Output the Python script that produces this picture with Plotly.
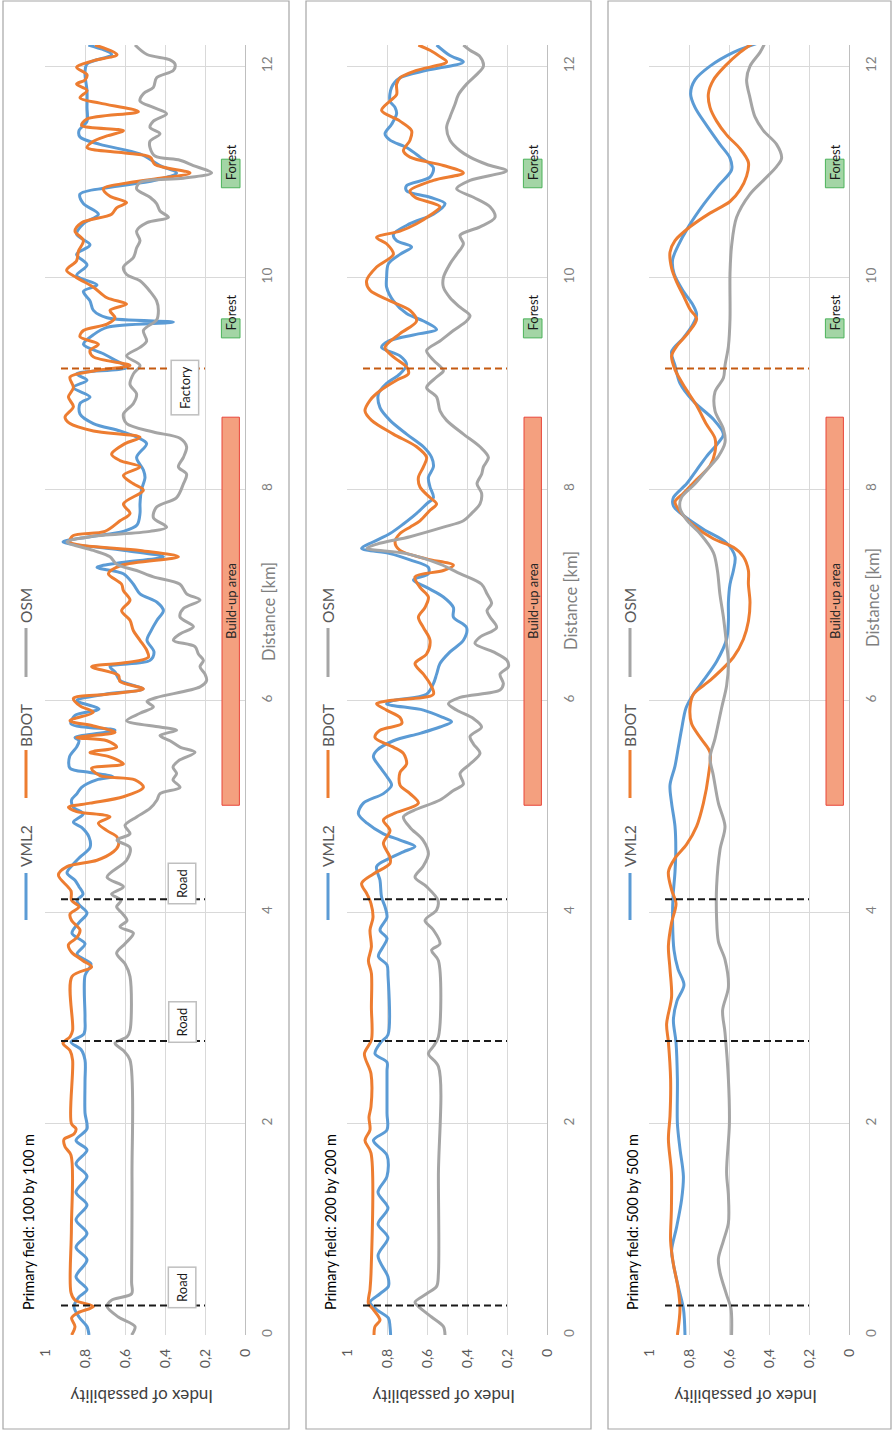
import plotly.graph_objects as go

W, H = 892, 1432
FONT = "Lato"

# ---------------- data: index of passability along the route ----------------
# Primary field 100 x 100 m
km_vml2_100 = [0, 0.08, 0.17, 0.27, 0.36, 0.43, 0.55, 0.71, 0.83, 0.96, 1.09, 1.23, 1.35, 1.5, 1.62, 1.75, 1.84, 1.95,
               2.1, 2.4, 2.6, 2.7, 2.77, 2.85, 3.0, 3.4, 3.51, 3.6, 3.7, 3.8, 3.9, 3.99, 4.07, 4.11, 4.17, 4.24, 4.3,
               4.37, 4.45, 4.52, 4.61, 4.71, 4.8, 4.85, 4.93, 4.99, 5.06, 5.12, 5.18, 5.25, 5.28, 5.32, 5.36, 5.47,
               5.56, 5.62, 5.65, 5.72, 5.78, 5.86, 5.92, 6.0, 6.06, 6.11, 6.19, 6.27, 6.32, 6.38, 6.46, 6.57, 6.66,
               6.76, 6.85, 6.93, 7.01, 7.1, 7.2, 7.26, 7.3, 7.36, 7.42, 7.5, 7.55, 7.6, 7.66, 7.77, 7.86, 7.99, 8.11,
               8.18, 8.3, 8.43, 8.49, 8.55, 8.62, 8.71, 8.81, 8.87, 8.96, 9.03, 9.09, 9.15, 9.22, 9.28, 9.37, 9.46,
               9.53, 9.58, 9.62, 9.69, 9.78, 9.87, 9.93, 10.02, 10.12, 10.22, 10.31, 10.41, 10.51, 10.6, 10.7, 10.79,
               10.85, 10.92, 10.99, 11.06, 11.17, 11.26, 11.33, 11.39, 11.48, 11.61, 11.77, 11.93, 12.02, 12.11, 12.2]
idx_vml2_100 = [0.78, 0.79, 0.83, 0.855, 0.83, 0.79, 0.845, 0.79, 0.845, 0.79, 0.845, 0.79, 0.845, 0.79, 0.845, 0.79,
                0.845, 0.79, 0.8, 0.8, 0.8, 0.82, 0.87, 0.805, 0.8, 0.8, 0.77, 0.84, 0.8, 0.865, 0.83, 0.79, 0.83,
                0.84, 0.81, 0.83, 0.85, 0.89, 0.86, 0.825, 0.775, 0.78, 0.817, 0.858, 0.808, 0.858, 0.867, 0.84,
                0.817, 0.742, 0.66, 0.775, 0.875, 0.877, 0.842, 0.83, 0.85, 0.65, 0.87, 0.85, 0.73, 0.842, 0.7, 0.51,
                0.625, 0.65, 0.675, 0.475, 0.455, 0.49, 0.47, 0.44, 0.408, 0.44, 0.525, 0.558, 0.608, 0.74, 0.64,
                0.408, 0.6, 0.91, 0.775, 0.608, 0.54, 0.525, 0.525, 0.518, 0.5, 0.508, 0.542, 0.492, 0.54, 0.625,
                0.758, 0.825, 0.825, 0.775, 0.858, 0.79, 0.842, 0.59, 0.65, 0.708, 0.808, 0.758, 0.69, 0.358, 0.69,
                0.758, 0.775, 0.808, 0.74, 0.842, 0.79, 0.842, 0.775, 0.842, 0.808, 0.733, 0.808, 0.825, 0.69, 0.45,
                0.342, 0.425, 0.525, 0.725, 0.825, 0.83, 0.79, 0.79, 0.79, 0.8, 0.79, 0.667, 0.783]

km_bdot_100 = [0, 0.08, 0.16, 0.21, 0.27, 0.33, 0.4, 1.0, 1.7, 1.78, 1.85, 1.9, 1.95, 2.0, 2.6, 2.69, 2.76, 2.82, 2.88,
               3.39, 3.48, 3.54, 3.62, 3.69, 3.76, 3.83, 3.92, 3.98, 4.05, 4.11, 4.2, 4.35, 4.43, 4.49, 4.57, 4.63,
               4.71, 4.77, 4.84, 4.9, 4.95, 4.99, 5.03, 5.09, 5.18, 5.25, 5.29, 5.36, 5.4, 5.47, 5.51, 5.56, 5.62,
               5.65, 5.7, 5.76, 5.81, 5.89, 5.95, 6.02, 6.06, 6.11, 6.18, 6.24, 6.32, 6.36, 6.41, 6.47, 6.57, 6.66,
               6.76, 6.85, 6.95, 7.04, 7.1, 7.2, 7.28, 7.36, 7.42, 7.5, 7.56, 7.6, 7.7, 7.77, 7.86, 7.99, 8.05, 8.13,
               8.21, 8.27, 8.33, 8.43, 8.49, 8.55, 8.62, 8.68, 8.78, 8.87, 8.96, 9.06, 9.12, 9.17, 9.25, 9.31, 9.37,
               9.44, 9.5, 9.56, 9.62, 9.69, 9.75, 9.81, 9.91, 10.0, 10.07, 10.16, 10.25, 10.35, 10.44, 10.52, 10.6,
               10.66, 10.71, 10.77, 10.84, 10.9, 10.94, 10.99, 11.07, 11.14, 11.18, 11.23, 11.29, 11.34, 11.39,
               11.44, 11.5, 11.57, 11.65, 11.7, 11.77, 11.83, 11.87, 11.92, 11.99, 12.05, 12.11, 12.2]
idx_bdot_100 = [0.867, 0.85, 0.867, 0.835, 0.758, 0.85, 0.87, 0.868, 0.87, 0.9, 0.905, 0.855, 0.845, 0.868, 0.862,
                0.875, 0.91, 0.875, 0.862, 0.865, 0.767, 0.81, 0.867, 0.883, 0.84, 0.825, 0.867, 0.875, 0.83, 0.867,
                0.87, 0.933, 0.89, 0.74, 0.658, 0.633, 0.64, 0.69, 0.733, 0.675, 0.842, 0.883, 0.775, 0.608, 0.508,
                0.55, 0.725, 0.767, 0.608, 0.68, 0.775, 0.642, 0.69, 0.842, 0.65, 0.758, 0.875, 0.758, 0.825, 0.858,
                0.69, 0.508, 0.625, 0.633, 0.767, 0.59, 0.483, 0.49, 0.525, 0.558, 0.575, 0.617, 0.575, 0.608, 0.617,
                0.683, 0.617, 0.333, 0.525, 0.875, 0.86, 0.7, 0.625, 0.575, 0.608, 0.508, 0.558, 0.608, 0.525, 0.625,
                0.667, 0.6, 0.525, 0.758, 0.875, 0.9, 0.858, 0.883, 0.858, 0.875, 0.75, 0.575, 0.758, 0.775, 0.733,
                0.825, 0.808, 0.69, 0.65, 0.675, 0.592, 0.69, 0.758, 0.842, 0.892, 0.842, 0.833, 0.808, 0.85, 0.817,
                0.667, 0.642, 0.592, 0.675, 0.708, 0.575, 0.425, 0.275, 0.45, 0.475, 0.608, 0.79, 0.758, 0.69, 0.608,
                0.817, 0.79, 0.533, 0.725, 0.825, 0.79, 0.842, 0.8, 0.79, 0.842, 0.76, 0.64, 0.75]

km_osm_100 = [0, 0.08, 0.17, 0.27, 0.33, 0.39, 0.5, 1.5, 2.6, 2.69, 2.76, 2.82, 2.88, 3.39, 3.51, 3.61, 3.7, 3.8, 3.86,
              3.92, 3.99, 4.05, 4.11, 4.17, 4.24, 4.33, 4.49, 4.61, 4.68, 4.74, 4.82, 4.9, 4.98, 5.06, 5.12, 5.18,
              5.25, 5.31, 5.37, 5.43, 5.51, 5.56, 5.62, 5.67, 5.72, 5.75, 5.81, 5.88, 5.94, 5.99, 6.03, 6.13, 6.19,
              6.25, 6.32, 6.38, 6.44, 6.51, 6.57, 6.63, 6.7, 6.79, 6.87, 6.95, 7.01, 7.1, 7.17, 7.23, 7.29, 7.36,
              7.42, 7.5, 7.55, 7.6, 7.64, 7.73, 7.83, 7.92, 8.05, 8.14, 8.21, 8.3, 8.4, 8.48, 8.54, 8.62, 8.71, 8.81,
              8.9, 8.99, 9.09, 9.17, 9.26, 9.34, 9.4, 9.5, 9.6, 9.69, 9.78, 9.87, 9.97, 10.03, 10.1, 10.19, 10.28,
              10.35, 10.44, 10.52, 10.57, 10.63, 10.7, 10.76, 10.84, 10.9, 10.94, 10.99, 11.06, 11.11, 11.15, 11.23,
              11.29, 11.36, 11.42, 11.48, 11.55, 11.61, 11.67, 11.74, 11.8, 11.89, 11.96, 12.02, 12.06, 12.11, 12.2]
idx_osm_100 = [0.567, 0.55, 0.633, 0.69, 0.667, 0.567, 0.567, 0.565, 0.575, 0.608, 0.65, 0.59, 0.575, 0.575, 0.6,
               0.642, 0.6, 0.558, 0.625, 0.59, 0.615, 0.642, 0.62, 0.667, 0.608, 0.69, 0.592, 0.575, 0.64, 0.575, 0.6,
               0.542, 0.475, 0.44, 0.425, 0.325, 0.36, 0.342, 0.36, 0.333, 0.25, 0.325, 0.375, 0.425, 0.342, 0.425,
               0.592, 0.525, 0.458, 0.49, 0.44, 0.225, 0.192, 0.2, 0.225, 0.208, 0.233, 0.25, 0.358, 0.325, 0.258,
               0.325, 0.308, 0.225, 0.292, 0.325, 0.458, 0.542, 0.642, 0.675, 0.758, 0.89, 0.775, 0.475, 0.392,
               0.458, 0.442, 0.342, 0.308, 0.292, 0.333, 0.308, 0.292, 0.325, 0.458, 0.592, 0.608, 0.558, 0.542,
               0.575, 0.558, 0.525, 0.592, 0.525, 0.492, 0.508, 0.442, 0.433, 0.442, 0.475, 0.525, 0.592, 0.608,
               0.558, 0.542, 0.525, 0.542, 0.49, 0.383, 0.425, 0.442, 0.475, 0.542, 0.525, 0.308, 0.167, 0.258,
               0.325, 0.45, 0.475, 0.475, 0.425, 0.475, 0.458, 0.392, 0.458, 0.525, 0.508, 0.458, 0.442, 0.358, 0.35,
               0.375, 0.49, 0.55]

# Primary field 200 x 200 m
km_vml2_200 = [0, 0.08, 0.16, 0.24, 0.31, 0.39, 0.46, 0.55, 0.75, 0.92, 1.05, 1.2, 1.35, 1.5, 1.7, 1.84, 1.94, 2.1,
               2.5, 2.58, 2.66, 2.77, 2.84, 3.4, 3.5, 3.58, 3.67, 3.75, 3.83, 3.95, 4.05, 4.14, 4.3, 4.43, 4.51, 4.57,
               4.62, 4.68, 4.74, 4.84, 4.93, 5.03, 5.12, 5.2, 5.28, 5.37, 5.47, 5.53, 5.62, 5.69, 5.75, 5.8, 5.84,
               5.91, 5.97, 6.0, 6.06, 6.16, 6.25, 6.35, 6.46, 6.57, 6.69, 6.79, 6.88, 6.98, 7.07, 7.14, 7.2, 7.26,
               7.33, 7.39, 7.44, 7.5, 7.58, 7.67, 7.77, 7.86, 7.92, 8.02, 8.11, 8.21, 8.3, 8.4, 8.52, 8.65, 8.77, 8.9,
               9.0, 9.09, 9.18, 9.26, 9.34, 9.4, 9.47, 9.51, 9.59, 9.66, 9.78, 9.91, 10.0, 10.13, 10.22, 10.29,
               10.35, 10.41, 10.51, 10.6, 10.7, 10.76, 10.82, 10.87, 10.95, 11.04, 11.14, 11.23, 11.3, 11.36, 11.45,
               11.55, 11.61, 11.67, 11.8, 11.89, 11.96, 12.04, 12.1, 12.2]
idx_vml2_200 = [0.782, 0.785, 0.793, 0.852, 0.885, 0.835, 0.793, 0.795, 0.845, 0.795, 0.845, 0.795, 0.845, 0.8, 0.8,
                0.868, 0.8, 0.8, 0.8, 0.8, 0.86, 0.83, 0.795, 0.795, 0.8, 0.843, 0.82, 0.8, 0.835, 0.8, 0.81, 0.827,
                0.835, 0.852, 0.785, 0.718, 0.66, 0.735, 0.818, 0.9, 0.943, 0.918, 0.818, 0.777, 0.8, 0.835, 0.868,
                0.85, 0.768, 0.635, 0.535, 0.477, 0.52, 0.618, 0.802, 0.77, 0.602, 0.568, 0.552, 0.535, 0.485, 0.418,
                0.402, 0.468, 0.468, 0.518, 0.602, 0.668, 0.593, 0.593, 0.685, 0.785, 0.927, 0.87, 0.785, 0.718,
                0.652, 0.602, 0.568, 0.585, 0.593, 0.568, 0.577, 0.618, 0.702, 0.785, 0.835, 0.843, 0.802, 0.735,
                0.702, 0.735, 0.827, 0.793, 0.635, 0.552, 0.618, 0.702, 0.768, 0.802, 0.802, 0.793, 0.735, 0.677,
                0.752, 0.768, 0.685, 0.568, 0.51, 0.585, 0.702, 0.702, 0.585, 0.568, 0.635, 0.702, 0.785, 0.81, 0.777,
                0.752, 0.76, 0.785, 0.777, 0.735, 0.602, 0.418, 0.485, 0.552]

km_bdot_200 = [0, 0.08, 0.14, 0.24, 0.3, 0.43, 0.58, 1.72, 1.84, 1.94, 2.06, 2.16, 2.47, 2.66, 2.79, 3.1, 3.42, 3.54,
               3.67, 3.83, 3.95, 4.08, 4.17, 4.27, 4.36, 4.46, 4.52, 4.65, 4.77, 4.87, 4.93, 5.03, 5.12, 5.2, 5.32,
               5.4, 5.5, 5.56, 5.65, 5.72, 5.78, 5.84, 5.91, 5.97, 6.0, 6.06, 6.16, 6.25, 6.35, 6.44, 6.57, 6.69,
               6.79, 6.88, 6.98, 7.07, 7.17, 7.23, 7.28, 7.34, 7.42, 7.5, 7.58, 7.64, 7.7, 7.8, 7.86, 7.92, 8.02,
               8.11, 8.21, 8.3, 8.4, 8.52, 8.65, 8.74, 8.84, 8.93, 9.03, 9.09, 9.15, 9.25, 9.34, 9.47, 9.59, 9.69,
               9.78, 9.88, 9.97, 10.1, 10.22, 10.32, 10.38, 10.44, 10.51, 10.59, 10.67, 10.76, 10.82, 10.92, 10.99,
               11.06, 11.14, 11.2, 11.3, 11.39, 11.48, 11.58, 11.67, 11.73, 11.83, 11.89, 11.96, 12.04, 12.09, 12.15,
               12.2]
idx_bdot_200 = [0.865, 0.86, 0.835, 0.868, 0.893, 0.885, 0.88, 0.88, 0.91, 0.885, 0.89, 0.88, 0.88, 0.913, 0.878,
                0.878, 0.878, 0.893, 0.878, 0.885, 0.87, 0.88, 0.9, 0.927, 0.868, 0.785, 0.785, 0.818, 0.785, 0.818,
                0.768, 0.643, 0.685, 0.735, 0.735, 0.702, 0.718, 0.768, 0.86, 0.835, 0.727, 0.735, 0.802, 0.852,
                0.785, 0.568, 0.585, 0.618, 0.66, 0.602, 0.585, 0.618, 0.643, 0.61, 0.593, 0.635, 0.66, 0.518, 0.468,
                0.602, 0.735, 0.76, 0.735, 0.685, 0.635, 0.585, 0.552, 0.585, 0.635, 0.643, 0.618, 0.602, 0.652,
                0.768, 0.877, 0.91, 0.885, 0.835, 0.752, 0.693, 0.7, 0.768, 0.81, 0.735, 0.652, 0.685, 0.785, 0.885,
                0.902, 0.852, 0.768, 0.802, 0.852, 0.735, 0.652, 0.585, 0.535, 0.66, 0.685, 0.568, 0.418, 0.518,
                0.685, 0.718, 0.685, 0.677, 0.735, 0.827, 0.785, 0.752, 0.752, 0.735, 0.652, 0.502, 0.535, 0.585,
                0.643]

km_osm_200 = [0, 0.08, 0.17, 0.27, 0.31, 0.39, 0.46, 0.58, 1.5, 2.54, 2.66, 2.73, 2.82, 3.54, 3.64, 3.7, 3.83, 3.92,
              4.02, 4.11, 4.24, 4.33, 4.43, 4.55, 4.68, 4.8, 4.9, 4.96, 5.06, 5.15, 5.21, 5.31, 5.4, 5.5, 5.59, 5.66,
              5.75, 5.83, 5.91, 5.97, 6.03, 6.1, 6.16, 6.25, 6.32, 6.38, 6.46, 6.54, 6.6, 6.69, 6.79, 6.85, 6.92,
              7.01, 7.1, 7.2, 7.29, 7.39, 7.44, 7.48, 7.55, 7.64, 7.7, 7.77, 7.86, 7.96, 8.05, 8.14, 8.21, 8.3, 8.4,
              8.52, 8.65, 8.74, 8.87, 8.96, 9.06, 9.12, 9.22, 9.31, 9.4, 9.5, 9.59, 9.64, 9.72, 9.81, 9.91, 10.0,
              10.13, 10.22, 10.32, 10.4, 10.48, 10.57, 10.67, 10.76, 10.84, 10.92, 11.01, 11.07, 11.14, 11.2, 11.3,
              11.42, 11.52, 11.64, 11.73, 11.83, 11.92, 12.0, 12.09, 12.15, 12.2]
idx_osm_200 = [0.51, 0.518, 0.577, 0.643, 0.66, 0.602, 0.552, 0.543, 0.543, 0.543, 0.593, 0.568, 0.543, 0.543, 0.577,
               0.535, 0.568, 0.61, 0.552, 0.545, 0.602, 0.66, 0.62, 0.593, 0.62, 0.685, 0.718, 0.668, 0.535, 0.468,
               0.418, 0.435, 0.385, 0.335, 0.368, 0.385, 0.327, 0.368, 0.452, 0.493, 0.435, 0.235, 0.218, 0.235,
               0.193, 0.2, 0.268, 0.36, 0.335, 0.252, 0.285, 0.3, 0.277, 0.3, 0.327, 0.435, 0.535, 0.702, 0.9, 0.85,
               0.685, 0.518, 0.418, 0.377, 0.335, 0.327, 0.35, 0.327, 0.318, 0.293, 0.335, 0.418, 0.502, 0.535,
               0.552, 0.602, 0.552, 0.518, 0.568, 0.602, 0.535, 0.468, 0.402, 0.385, 0.435, 0.485, 0.518, 0.518,
               0.485, 0.452, 0.418, 0.435, 0.335, 0.26, 0.285, 0.368, 0.452, 0.385, 0.202, 0.3, 0.385, 0.435, 0.485,
               0.502, 0.485, 0.46, 0.443, 0.402, 0.352, 0.318, 0.335, 0.385, 0.418]

# Primary field 500 x 500 m
km_vml2_500 = [0, 0.25, 0.45, 0.67, 0.8, 1.02, 1.28, 1.5, 1.76, 2.0, 2.42, 2.77, 2.98, 3.16, 3.31, 3.46, 3.64, 3.9,
               4.14, 4.38, 4.6, 4.81, 5.03, 5.2, 5.38, 5.56, 5.73, 5.93, 6.06, 6.19, 6.37, 6.58, 6.75, 6.93, 7.1,
               7.23, 7.36, 7.49, 7.62, 7.75, 7.84, 7.92, 8.05, 8.18, 8.31, 8.44, 8.52, 8.66, 8.83, 9.0, 9.17, 9.3,
               9.43, 9.56, 9.65, 9.74, 9.87, 10.04, 10.17, 10.3, 10.48, 10.69, 10.87, 11.02, 11.13, 11.26, 11.44,
               11.61, 11.74, 11.87, 12.0, 12.13, 12.22]
idx_vml2_500 = [0.82, 0.828, 0.853, 0.878, 0.887, 0.862, 0.837, 0.828, 0.845, 0.858, 0.858, 0.865, 0.878, 0.86, 0.825,
                0.855, 0.875, 0.882, 0.88, 0.87, 0.866, 0.87, 0.887, 0.895, 0.87, 0.853, 0.837, 0.815, 0.778, 0.728,
                0.662, 0.612, 0.603, 0.603, 0.595, 0.578, 0.57, 0.612, 0.728, 0.828, 0.878, 0.878, 0.812, 0.762,
                0.712, 0.653, 0.628, 0.678, 0.778, 0.845, 0.87, 0.887, 0.828, 0.78, 0.762, 0.78, 0.828, 0.875, 0.882,
                0.855, 0.803, 0.728, 0.653, 0.587, 0.595, 0.645, 0.712, 0.77, 0.792, 0.77, 0.695, 0.578, 0.453]

km_bdot_500 = [0, 0.25, 0.45, 0.67, 0.89, 1.19, 1.54, 1.85, 2.07, 2.42, 2.77, 2.94, 3.2, 3.46, 3.68, 3.9, 4.08, 4.21,
               4.38, 4.51, 4.64, 4.81, 5.03, 5.29, 5.51, 5.64, 5.78, 5.93, 6.06, 6.19, 6.41, 6.58, 6.75, 6.93, 7.1,
               7.23, 7.36, 7.45, 7.53, 7.66, 7.79, 7.88, 7.96, 8.09, 8.22, 8.35, 8.48, 8.61, 8.79, 8.96, 9.13, 9.26,
               9.35, 9.48, 9.61, 9.7, 9.83, 9.96, 10.09, 10.24, 10.35, 10.48, 10.61, 10.72, 10.83, 10.96, 11.09,
               11.22, 11.35, 11.48, 11.61, 11.74, 11.87, 12.0, 12.13, 12.22]
idx_bdot_500 = [0.858, 0.845, 0.855, 0.878, 0.892, 0.888, 0.888, 0.903, 0.895, 0.892, 0.903, 0.912, 0.887, 0.895,
                0.903, 0.887, 0.865, 0.887, 0.903, 0.87, 0.812, 0.762, 0.728, 0.703, 0.695, 0.74, 0.787, 0.795, 0.778,
                0.695, 0.578, 0.528, 0.503, 0.495, 0.503, 0.503, 0.528, 0.578, 0.678, 0.778, 0.845, 0.87, 0.828,
                0.762, 0.695, 0.67, 0.67, 0.712, 0.762, 0.82, 0.87, 0.887, 0.862, 0.803, 0.762, 0.795, 0.828, 0.862,
                0.887, 0.895, 0.87, 0.795, 0.695, 0.595, 0.545, 0.512, 0.503, 0.545, 0.612, 0.662, 0.695, 0.703,
                0.678, 0.62, 0.545, 0.478]

km_osm_500 = [0, 0.25, 0.38, 0.59, 0.72, 0.89, 1.06, 1.32, 1.54, 2.0, 2.42, 2.86, 3.07, 3.29, 3.55, 3.72, 3.94, 4.24,
              4.59, 4.81, 5.03, 5.29, 5.46, 5.64, 5.93, 6.14, 6.36, 6.58, 6.79, 7.0, 7.23, 7.4, 7.58, 7.71, 7.82,
              7.92, 8.05, 8.18, 8.31, 8.44, 8.57, 8.74, 8.92, 9.05, 9.17, 9.35, 9.61, 10.04, 10.3, 10.57, 10.79,
              10.92, 11.05, 11.13, 11.26, 11.39, 11.52, 11.7, 11.87, 12.0, 12.13, 12.22]
idx_osm_500 = [0.587, 0.59, 0.612, 0.645, 0.653, 0.628, 0.603, 0.603, 0.612, 0.598, 0.603, 0.62, 0.632, 0.603, 0.62,
               0.653, 0.662, 0.662, 0.645, 0.62, 0.653, 0.678, 0.695, 0.67, 0.637, 0.612, 0.603, 0.615, 0.628, 0.645,
               0.658, 0.678, 0.745, 0.812, 0.845, 0.838, 0.77, 0.712, 0.653, 0.62, 0.628, 0.67, 0.67, 0.628, 0.62,
               0.603, 0.595, 0.595, 0.587, 0.562, 0.495, 0.428, 0.362, 0.337, 0.362, 0.428, 0.47, 0.495, 0.512,
               0.495, 0.445, 0.42]

# ---------------- labels, categories and landmarks ----------------
series_names = ["VML2", "BDOT", "OSM"]
series_colors = ["#5B9BD5", "#ED7D31", "#A5A5A5"]
panel_titles = ["Primary field: 100 by 100 m", "Primary field: 200 by 200 m", "Primary field: 500 by 500 m"]
index_ticks = [0, 0.2, 0.4, 0.6, 0.8, 1]
index_tick_text = ["0", "0,2", "0,4", "0,6", "0,8", "1"]
km_ticks = [0, 2, 4, 6, 8, 10, 12]

road_km = [0.28, 2.78, 4.12]          # road crossings (dashed markers)
factory_km = [9.14]                   # factory
marker_index_span = [0.92, 0.2]       # vertical extent of the markers on the index scale
road_label_km = [0.45, 2.96, 4.27]
factory_label_km = [8.96]
builtup_km = [5.01, 8.68]             # build-up area extent
forest_km = [[9.43, 9.61], [10.85, 11.12]]
forest_label_km = [9.67, 11.09]

panel_data = [
    [(km_vml2_100, idx_vml2_100), (km_bdot_100, idx_bdot_100), (km_osm_100, idx_osm_100)],
    [(km_vml2_200, idx_vml2_200), (km_bdot_200, idx_bdot_200), (km_osm_200, idx_osm_200)],
    [(km_vml2_500, idx_vml2_500), (km_bdot_500, idx_bdot_500), (km_osm_500, idx_osm_500)],
]

# ---------------- geometry (pixels) ----------------
plot_left = [45, 347, 649]
plot_w = 200
plot_top, plot_bottom = 45, 1335
frame_box = [(3, 1, 289, 1429), (306, 1, 591, 1429), (608, 1, 891, 1429)]
dist_title_y = [612, 601, 598]


def px(x):
    return x / W


def py(y):
    return 1 - y / H


fig = go.Figure()
layout = dict(
    template="none",
    width=W, height=H, margin=dict(l=0, r=0, t=0, b=0, pad=0, autoexpand=False),
    paper_bgcolor="white", plot_bgcolor="white", showlegend=False,
    font=dict(family=FONT, color="#595959"),
)
shapes, annotations = [], []

for p in range(3):
    sfx = "" if p == 0 else str(p + 1)
    xa, ya = "x" + sfx, "y" + sfx
    L = plot_left[p]
    layout["xaxis" + sfx] = dict(
        domain=[px(L), px(L + plot_w)], range=[1, 0], anchor=ya, automargin=False,
        tickvals=index_ticks, ticktext=index_tick_text, tickangle=-90,
        showgrid=True, gridcolor="#D9D9D9", gridwidth=1,
        zeroline=True, zerolinecolor="#BFBFBF", zerolinewidth=1,
        showline=False, ticks="", ticklabelstandoff=10,
        tickfont=dict(size=14, color="#595959", family=FONT), fixedrange=True,
    )
    layout["yaxis" + sfx] = dict(
        domain=[py(plot_bottom), py(plot_top)], range=[0, 12.2], anchor=xa, side="right", automargin=False,
        tickvals=km_ticks, tickangle=-90,
        showgrid=True, gridcolor="#D9D9D9", gridwidth=1, zeroline=False,
        showline=False, ticks="", ticklabelstandoff=12,
        tickfont=dict(size=13.5, color="#7F7F7F", family=FONT), fixedrange=True,
    )

    # series lines
    for (km, idx), name, color in zip(panel_data[p], series_names, series_colors):
        fig.add_trace(go.Scatter(
            x=idx, y=km, xaxis=xa, yaxis=ya, mode="lines", name=name,
            line=dict(color=color, width=3, shape="spline", smoothing=0.9),
            hoverinfo="skip",
        ))

    # road and factory markers
    rx, ry = [], []
    for d in road_km:
        rx += marker_index_span + [None]
        ry += [d, d, None]
    fig.add_trace(go.Scatter(x=rx, y=ry, xaxis=xa, yaxis=ya, mode="lines",
                             line=dict(color="#1A1A1A", width=2, dash="7px,4px"), hoverinfo="skip"))
    fx, fy = [], []
    for d in factory_km:
        fx += marker_index_span + [None]
        fy += [d, d, None]
    fig.add_trace(go.Scatter(x=fx, y=fy, xaxis=xa, yaxis=ya, mode="lines",
                             line=dict(color="#C55A11", width=2, dash="7px,4px"), hoverinfo="skip"))

    # build-up area
    shapes.append(dict(type="rect", xref=xa, yref=ya, x0=0.115, x1=0.028,
                       y0=builtup_km[0], y1=builtup_km[1],
                       fillcolor="#F4A07F", line=dict(color="#E8463A", width=1), layer="above"))
    annotations.append(dict(xref=xa, yref=ya, x=0.0715, y=6.94, text="Build-up area", showarrow=False,
                            textangle=-90, font=dict(size=13, color="#262626", family=FONT)))
    # forests
    for (f0, f1), fl in zip(forest_km, forest_label_km):
        shapes.append(dict(type="rect", xref=xa, yref=ya, x0=0.118, x1=0.025, y0=f0, y1=f1,
                           fillcolor="#A3D5A5", line=dict(color="#4CB25A", width=1), layer="above"))
        annotations.append(dict(xref=xa, yref=ya, x=0.07, y=fl, text="Forest", showarrow=False,
                                textangle=-90, font=dict(size=13, color="#1A1A1A", family=FONT)))

    # panel frame
    x0, y0, x1, y1 = frame_box[p]
    shapes.append(dict(type="rect", xref="paper", yref="paper", x0=px(x0), x1=px(x1), y0=py(y1), y1=py(y0),
                       line=dict(color="#A6A6A6", width=1.2), fillcolor="rgba(0,0,0,0)", layer="below"))

    # legend (drawn rotated alongside the plot)
    lx = L - 19
    leg = [((873, 920), 846), ((750, 798), 726), ((628, 677), 606)]
    for ((ly0, ly1), ty), name, color in zip(leg, series_names, series_colors):
        shapes.append(dict(type="line", xref="paper", yref="paper", x0=px(lx), x1=px(lx),
                           y0=py(ly1), y1=py(ly0), line=dict(color=color, width=3)))
        annotations.append(dict(xref="paper", yref="paper", x=px(lx), y=py(ty), text=name, showarrow=False,
                                textangle=-90, xanchor="center", yanchor="middle",
                                font=dict(size=15.5, color="#595959", family=FONT)))

    # panel caption
    annotations.append(dict(xref="paper", yref="paper", x=px(L - 17), y=py(1222), text=panel_titles[p],
                            showarrow=False, textangle=-90, xanchor="center", yanchor="middle",
                            font=dict(size=14.5, color="#000000", family=FONT)))
    # axis titles
    annotations.append(dict(xref="paper", yref="paper", x=px(L + plot_w + 24), y=py(dist_title_y[p]),
                            text="Distance [km]", showarrow=False, textangle=-90,
                            xanchor="center", yanchor="middle",
                            font=dict(size=16.5, color="#7F7F7F", family=FONT)))
    annotations.append(dict(xref="paper", yref="paper", x=px(L + 97), y=py(1397),
                            text="Index of passability", showarrow=False, textangle=180,
                            xanchor="center", yanchor="middle",
                            font=dict(size=17, color="#404040", family=FONT)))

# labelled landmarks on the first panel
for d in road_label_km:
    annotations.append(dict(xref="x", yref="y", x=0.315, y=d, text="Road", showarrow=False, textangle=-90,
                            bgcolor="white", bordercolor="#BFBFBF", borderwidth=1.5, borderpad=5,
                            font=dict(size=13, color="#1A1A1A", family=FONT)))
for d in factory_label_km:
    annotations.append(dict(xref="x", yref="y", x=0.30, y=d, text="Factory", showarrow=False, textangle=-90,
                            bgcolor="white", bordercolor="#BFBFBF", borderwidth=1.5, borderpad=5,
                            font=dict(size=13, color="#1A1A1A", family=FONT)))

layout["shapes"] = shapes
layout["annotations"] = annotations
fig.update_layout(**layout)
fig.write_html("out.html")
